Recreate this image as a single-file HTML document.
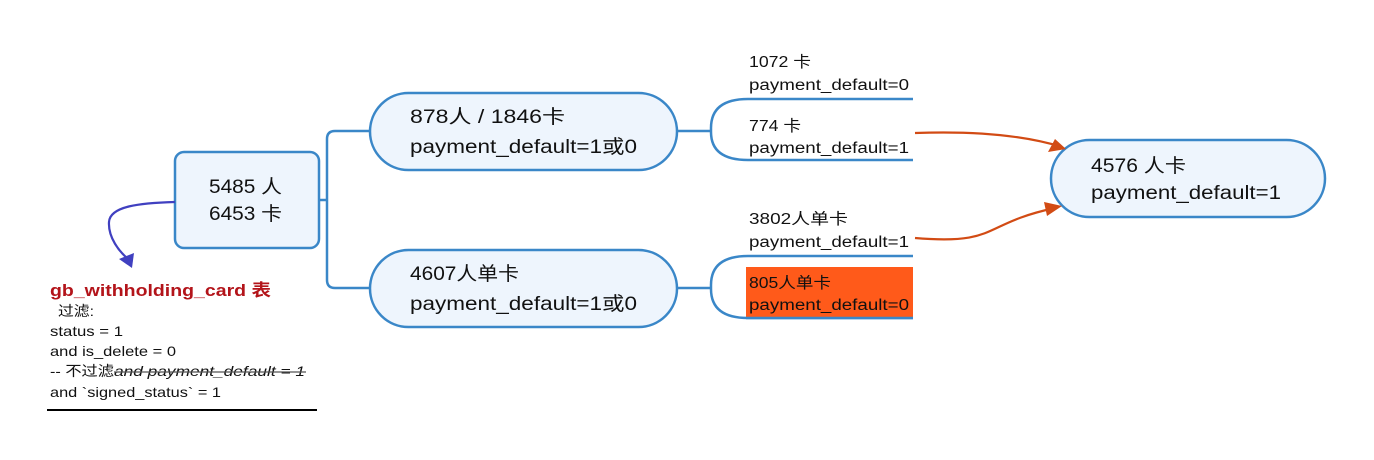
<!DOCTYPE html>
<html><head><meta charset="utf-8"><style>
html,body{margin:0;padding:0;background:#fff;}
svg{display:block;}
text{font-family:"Liberation Sans","Noto Sans CJK SC",sans-serif;fill:#111;}
</style></head><body>
<svg width="1374" height="460" viewBox="0 0 1374 460" xmlns="http://www.w3.org/2000/svg">
<g fill="none" stroke="#3a87c8" stroke-width="2.5">
<line x1="319" y1="200" x2="327" y2="200"/>
<path d="M369,131 H335 Q327,131 327,139 V280 Q327,288 335,288 H369"/>
<line x1="678" y1="131" x2="711" y2="131"/>
<line x1="678" y1="288" x2="711" y2="288"/>
<path d="M913,99 H748 Q711,99 711,128 V132 Q711,160 748,160 H913"/>
<path d="M913,256 H748 Q711,256 711,285 V289 Q711,318 748,318 H913"/>
</g>
<rect x="175" y="152" width="144" height="96" rx="9" fill="#eef5fd" stroke="#3a87c8" stroke-width="2.5"/>
<rect x="370" y="93" width="307" height="77" rx="38.5" fill="#eef5fd" stroke="#3a87c8" stroke-width="2.5"/>
<rect x="370" y="250" width="307" height="77" rx="38.5" fill="#eef5fd" stroke="#3a87c8" stroke-width="2.5"/>
<rect x="1051" y="140" width="274" height="77" rx="38.5" fill="#eef5fd" stroke="#3a87c8" stroke-width="2.5"/>
<rect x="746" y="267" width="167" height="50" fill="#ff5a1a"/>
<line x1="746" y1="318" x2="913" y2="318" stroke="#3a87c8" stroke-width="2.5"/>
<g font-size="19">
<text x="209" y="193" textLength="73" lengthAdjust="spacingAndGlyphs">5485 人</text>
<text x="209" y="220" textLength="73" lengthAdjust="spacingAndGlyphs">6453 卡</text>
<text x="410" y="123" textLength="155" lengthAdjust="spacingAndGlyphs">878人 / 1846卡</text>
<text x="410" y="153" textLength="227" lengthAdjust="spacingAndGlyphs">payment_default=1或0</text>
<text x="410" y="280" textLength="109" lengthAdjust="spacingAndGlyphs">4607人单卡</text>
<text x="410" y="310" textLength="227" lengthAdjust="spacingAndGlyphs">payment_default=1或0</text>
<text x="1091" y="172" textLength="95" lengthAdjust="spacingAndGlyphs">4576 人卡</text>
<text x="1091" y="199" textLength="190" lengthAdjust="spacingAndGlyphs">payment_default=1</text>
</g>
<g font-size="15.5">
<text x="749" y="67" textLength="62" lengthAdjust="spacingAndGlyphs">1072 卡</text>
<text x="749" y="90" textLength="160" lengthAdjust="spacingAndGlyphs">payment_default=0</text>
<text x="749" y="131" textLength="52" lengthAdjust="spacingAndGlyphs">774 卡</text>
<text x="749" y="153" textLength="160" lengthAdjust="spacingAndGlyphs">payment_default=1</text>
<text x="749" y="224" textLength="99" lengthAdjust="spacingAndGlyphs">3802人单卡</text>
<text x="749" y="247" textLength="160" lengthAdjust="spacingAndGlyphs">payment_default=1</text>
<text x="749" y="288" textLength="82" lengthAdjust="spacingAndGlyphs">805人单卡</text>
<text x="749" y="310" textLength="160" lengthAdjust="spacingAndGlyphs">payment_default=0</text>
</g>
<path d="M915,133 C970,131 1020,134 1062,147" fill="none" stroke="#d24b14" stroke-width="2.2"/>
<path d="M1066,149 L1048,152 L1055,139 z" fill="#d24b14"/>
<path d="M915,238 C1000,245 980,224 1055,208" fill="none" stroke="#d24b14" stroke-width="2.2"/>
<path d="M1062,206 L1047,216 L1044,202 z" fill="#d24b14"/>
<path d="M175,202 C140,203 110,206 109,222 C108,238 120,252 127,258" fill="none" stroke="#4040c0" stroke-width="2.2"/>
<path d="M132,268 L119,259 L134,253 z" fill="#4040c0"/>
<text x="50" y="296" font-size="17" font-weight="bold" style="fill:#b3141a" textLength="221" lengthAdjust="spacingAndGlyphs">gb_withholding_card 表</text>
<g font-size="14">
<text x="58" y="316" textLength="36" lengthAdjust="spacingAndGlyphs">过滤:</text>
<text x="50" y="336" textLength="73" lengthAdjust="spacingAndGlyphs">status = 1</text>
<text x="50" y="356" textLength="126" lengthAdjust="spacingAndGlyphs">and is_delete = 0</text>
<text x="50" y="376" textLength="64" lengthAdjust="spacingAndGlyphs">-- 不过滤</text>
<text x="114" y="376" font-style="italic" textLength="191" lengthAdjust="spacingAndGlyphs">and payment_default = 1</text>
<text x="50" y="397" textLength="171" lengthAdjust="spacingAndGlyphs">and `signed_status` = 1</text>
</g>
<line x1="114" y1="372" x2="306" y2="372" stroke="#555" stroke-width="1.3"/>
<line x1="47" y1="410" x2="317" y2="410" stroke="#000" stroke-width="2"/>
</svg>
</body></html>
